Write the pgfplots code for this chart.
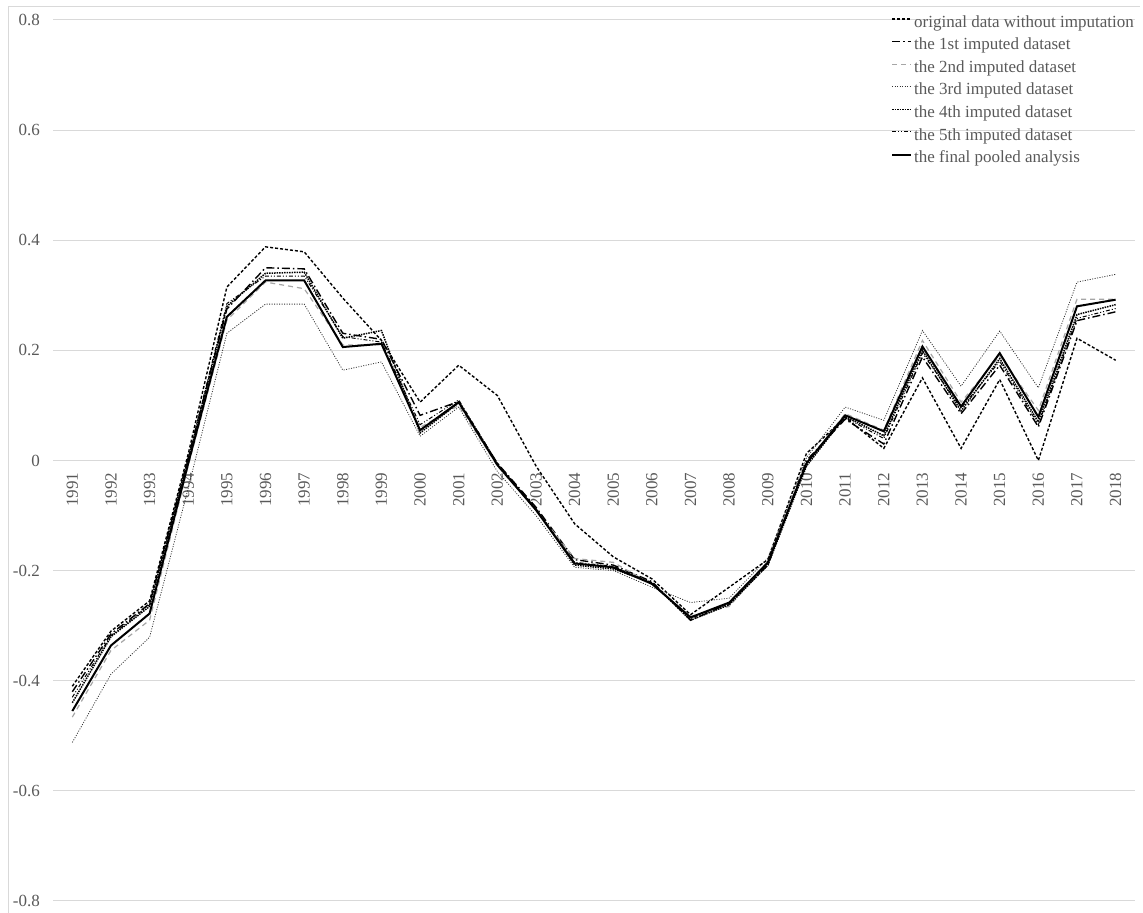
\documentclass[border=0pt]{standalone}
\usepackage{pgfplots}
\pgfplotsset{compat=1.18}
\usepackage{fontspec}
\setmainfont{Liberation Serif}
\definecolor{txtgray}{HTML}{595959}
\definecolor{gridgray}{HTML}{D9D9D9}
\definecolor{lgray}{HTML}{A6A6A6}
\begin{document}
\begin{tikzpicture}[x=1bp,y=1bp]
\useasboundingbox (0,0) rectangle (1143,913);
\draw[gridgray, line width=1bp] (8,0) -- (8,906) -- (1140,906);
\begin{axis}[
  at={(53bp,12bp)}, anchor=south west,
  width=1082bp, height=881bp, scale only axis,
  xmin=1990.5, xmax=2018.5, ymin=-0.8, ymax=0.8,
  axis x line=middle, axis y line=left,
  axis line style={draw=none},
  major tick length=0pt,
  xtick={1991,...,2018},
  xticklabels={1991,1992,1993,1994,1995,1996,1997,1998,1999,2000,2001,2002,2003,2004,2005,2006,2007,2008,2009,2010,2011,2012,2013,2014,2015,2016,2017,2018},
  ytick={-0.8,-0.6,-0.4,-0.2,0,0.2,0.4,0.6,0.8},
  yticklabels={-0.8,-0.6,-0.4,-0.2,0,0.2,0.4,0.6,0.8},
  ymajorgrids,
  grid style={gridgray, line width=1bp},
  ticklabel style={font=\fontsize{17bp}{20bp}\selectfont, text=txtgray, inner sep=0pt},
  xticklabel style={yshift=-12bp, rotate=90, anchor=east},
  yticklabel style={anchor=east, xshift=-13bp},
  legend cell align=left,
  legend style={at={(axis description cs:0.7745,1.0057)}, anchor=north west,
    draw=none, fill=none, inner sep=0pt, row sep=7.1bp, column sep=2bp,
    font=\fontsize{17bp}{20bp}\selectfont, text=txtgray,
    nodes={inner sep=0pt, text height=12bp, text depth=3.5bp}},
  legend image code/.code={\draw[#1] (0bp,4bp) -- (19bp,4bp);},
  clip=false,
]
% original data without imputation
\addplot[black, line width=1.4bp, dash pattern=on 3bp off 2bp] coordinates {
(1991,-0.41) (1992,-0.31) (1993,-0.255) (1994,0.012) (1995,0.315) (1996,0.388) (1997,0.379) (1998,0.295) (1999,0.218) (2000,0.106) (2001,0.173) (2002,0.118) (2003,-0.01) (2004,-0.115) (2005,-0.175) (2006,-0.215) (2007,-0.28) (2008,-0.23) (2009,-0.18) (2010,0.013) (2011,0.078) (2012,0.022) (2013,0.15) (2014,0.022) (2015,0.147) (2016,0.0) (2017,0.222) (2018,0.182)};
\addlegendentry{original data without imputation}
% 1st
\addplot[black, line width=1.4bp, dash pattern=on 8bp off 3bp on 1.5bp off 3bp] coordinates {
(1991,-0.42) (1992,-0.315) (1993,-0.26) (1994,0.005) (1995,0.275) (1996,0.35) (1997,0.348) (1998,0.231) (1999,0.22) (2000,0.082) (2001,0.107) (2002,-0.005) (2003,-0.085) (2004,-0.18) (2005,-0.19) (2006,-0.22) (2007,-0.29) (2008,-0.26) (2009,-0.19) (2010,0.0) (2011,0.075) (2012,0.03) (2013,0.188) (2014,0.085) (2015,0.173) (2016,0.061) (2017,0.254) (2018,0.27)};
\addlegendentry{the 1st imputed dataset}
% 2nd
\addplot[lgray, line width=1.2bp, dash pattern=on 5bp off 4bp] coordinates {
(1991,-0.466) (1992,-0.345) (1993,-0.29) (1994,-0.01) (1995,0.255) (1996,0.324) (1997,0.312) (1998,0.21) (1999,0.21) (2000,0.06) (2001,0.1) (2002,-0.01) (2003,-0.09) (2004,-0.178) (2005,-0.185) (2006,-0.225) (2007,-0.283) (2008,-0.265) (2009,-0.185) (2010,-0.005) (2011,0.085) (2012,0.055) (2013,0.218) (2014,0.106) (2015,0.19) (2016,0.091) (2017,0.293) (2018,0.293)};
\addlegendentry{the 2nd imputed dataset}
% 3rd
\addplot[black!80, line width=0.8bp, dash pattern=on 1bp off 1.5bp] coordinates {
(1991,-0.512) (1992,-0.388) (1993,-0.321) (1994,-0.05) (1995,0.231) (1996,0.284) (1997,0.284) (1998,0.164) (1999,0.179) (2000,0.044) (2001,0.097) (2002,-0.02) (2003,-0.1) (2004,-0.194) (2005,-0.2) (2006,-0.23) (2007,-0.258) (2008,-0.25) (2009,-0.177) (2010,0.005) (2011,0.097) (2012,0.073) (2013,0.236) (2014,0.135) (2015,0.235) (2016,0.132) (2017,0.324) (2018,0.338)};
\addlegendentry{the 3rd imputed dataset}
% 4th
\addplot[black, line width=1.5bp, dash pattern=on 1.5bp off 1bp] coordinates {
(1991,-0.44) (1992,-0.32) (1993,-0.265) (1994,0.0) (1995,0.28) (1996,0.34) (1997,0.342) (1998,0.222) (1999,0.236) (2000,0.05) (2001,0.105) (2002,-0.008) (2003,-0.088) (2004,-0.19) (2005,-0.197) (2006,-0.222) (2007,-0.29) (2008,-0.262) (2009,-0.19) (2010,-0.01) (2011,0.08) (2012,0.045) (2013,0.2) (2014,0.09) (2015,0.185) (2016,0.07) (2017,0.265) (2018,0.283)};
\addlegendentry{the 4th imputed dataset}
% 5th
\addplot[black, line width=1bp, dash pattern=on 4bp off 2bp on 1bp off 2bp on 1bp off 2bp] coordinates {
(1991,-0.43) (1992,-0.318) (1993,-0.262) (1994,0.005) (1995,0.285) (1996,0.335) (1997,0.335) (1998,0.225) (1999,0.215) (2000,0.065) (2001,0.11) (2002,-0.005) (2003,-0.088) (2004,-0.185) (2005,-0.192) (2006,-0.222) (2007,-0.287) (2008,-0.26) (2009,-0.188) (2010,-0.005) (2011,0.078) (2012,0.04) (2013,0.195) (2014,0.095) (2015,0.18) (2016,0.065) (2017,0.258) (2018,0.276)};
\addlegendentry{the 5th imputed dataset}
% pooled
\addplot[black, line width=2bp] coordinates {
(1991,-0.455) (1992,-0.336) (1993,-0.278) (1994,-0.005) (1995,0.261) (1996,0.327) (1997,0.327) (1998,0.206) (1999,0.212) (2000,0.055) (2001,0.106) (2002,-0.008) (2003,-0.09) (2004,-0.187) (2005,-0.194) (2006,-0.224) (2007,-0.285) (2008,-0.258) (2009,-0.185) (2010,-0.005) (2011,0.082) (2012,0.053) (2013,0.207) (2014,0.098) (2015,0.195) (2016,0.079) (2017,0.28) (2018,0.292)};
\addlegendentry{the final pooled analysis}
\end{axis}
\end{tikzpicture}
\end{document}
